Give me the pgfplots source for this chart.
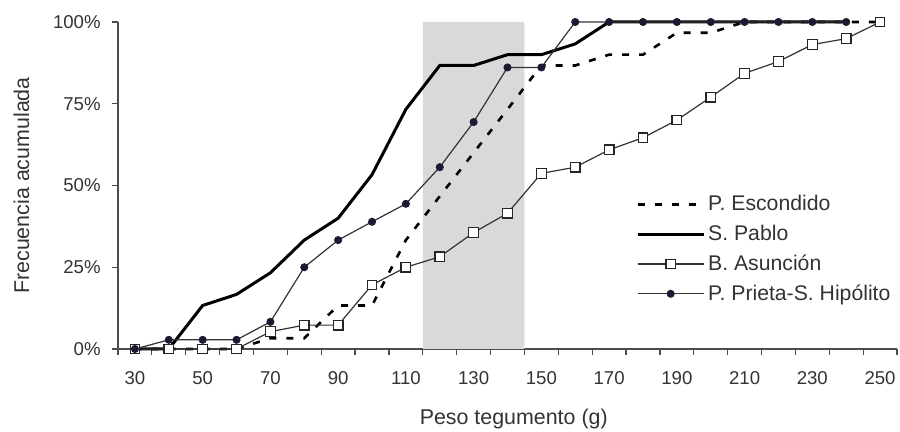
\documentclass[border=0pt]{standalone}
\usepackage{fontspec}
\setmainfont{Liberation Sans}
\usepackage{pgfplots}
\pgfplotsset{compat=1.18}
\definecolor{BandGray}{HTML}{D9D9D9}
\definecolor{TextGray}{HTML}{333333}
\definecolor{DotNavy}{HTML}{1A1A33}

\begin{document}
\begin{tikzpicture}
\begin{axis}[
    scale only axis, width=389.5pt, height=163.5pt,
    xmin=25, xmax=255, ymin=0, ymax=100,
    axis x line*=bottom, axis y line*=left,
    axis line style={-, draw=black!70, line width=0.6pt},
    clip=false,
    font=\fontsize{9.3}{11}\selectfont, text=TextGray,
    % labels at category centres, tick marks at the boundaries
    xtick={30,50,...,250},
    xticklabels={30,50,70,90,110,130,150,170,190,210,230,250},
    minor xtick={25,35,...,255},
    ytick={0,25,50,75,100},
    yticklabels={0\%,25\%,50\%,75\%,100\%},
    minor ytick={0,25,50,75,100},
    major tick length=0pt, minor tick length=3pt, tick align=outside,
    tick style={black!70, line width=0.6pt},
    xticklabel style={anchor=base, yshift=-18pt},
    yticklabel style={anchor=east, inner sep=0pt, xshift=-8.5pt},
    xlabel={Peso tegumento (g)},
    ylabel={Frecuencia acumulada},
    every axis x label/.style={at={(axis description cs:0.508,-0.232)}, anchor=base, font=\fontsize{10.7}{12}\selectfont, text=TextGray},
    every axis y label/.style={at={(axis description cs:-0.124,0.5)}, rotate=90, anchor=center, font=\fontsize{10.7}{12}\selectfont, text=TextGray},
    legend style={draw=none, fill=none, at={(rel axis cs:0.657,0.495)}, anchor=north west,
        font=\fontsize{10.6}{12}\selectfont, text=TextGray, row sep=1.6pt, nodes={inner xsep=1.5pt}},
    legend cell align=left,
    legend image code/.code={\draw[mark repeat=2,mark phase=2,#1] plot coordinates {(0pt,0pt)(16.5pt,0pt)(33pt,0pt)};},
]
\coordinate (bl) at (rel axis cs:0,0);

\addplot[fill=BandGray, draw=none, forget plot] coordinates {(115,0) (115,100) (145,100) (145,0)} \closedcycle;

\addplot[black, line width=1.3pt, dash pattern=on 3.5pt off 5pt] coordinates {
 (30,0) (40,0) (50,0) (60,0) (70,3.3) (80,3.3) (90,13.3) (100,13.3) (110,33.3) (120,46.7)
 (130,60) (140,73.3) (150,86.7) (160,86.7) (170,90) (180,90) (190,96.7) (200,96.7)
 (210,100) (220,100) (230,100) (240,100) (250,100)};
\addlegendentry{P. Escondido}

\addplot[black, line width=1.5pt] coordinates {
 (30,0) (40,0) (50,13.3) (60,16.7) (70,23.3) (80,33.3) (90,40) (100,53.3) (110,73.3) (120,86.7)
 (130,86.7) (140,90) (150,90) (160,93.3) (170,100) (180,100) (190,100) (200,100)
 (210,100) (220,100) (230,100) (240,100)};
\addlegendentry{S. Pablo}

\addplot[black!80, line width=0.6pt, mark=square*, mark size=2.4pt,
    mark options={fill=white, draw=black!85, line width=0.6pt}] coordinates {
 (30,0) (40,0) (50,0) (60,0) (70,5.3) (80,7.3) (90,7.3) (100,19.6) (110,25) (120,28.2)
 (130,35.6) (140,41.5) (150,53.7) (160,55.6) (170,60.9) (180,64.6) (190,70) (200,77)
 (210,84.3) (220,87.9) (230,93.1) (240,94.9) (250,100)};
\addlegendentry{B. Asunción}

\addplot[black!80, line width=0.6pt, mark=*, mark size=1.7pt,
    mark options={fill=DotNavy, draw=DotNavy}] coordinates {
 (30,0) (40,2.8) (50,2.8) (60,2.8) (70,8.3) (80,25) (90,33.3) (100,38.9) (110,44.4) (120,55.6)
 (130,69.4) (140,86.1) (150,86.1) (160,100) (170,100) (180,100) (190,100) (200,100)
 (210,100) (220,100) (230,100) (240,100)};
\addlegendentry{P. Prieta-S. Hipólito}
\end{axis}
\pgfresetboundingbox
\path[use as bounding box] (bl) ++(-59pt,-41.5pt) rectangle ++(450pt,216pt);
\end{tikzpicture}
\end{document}
